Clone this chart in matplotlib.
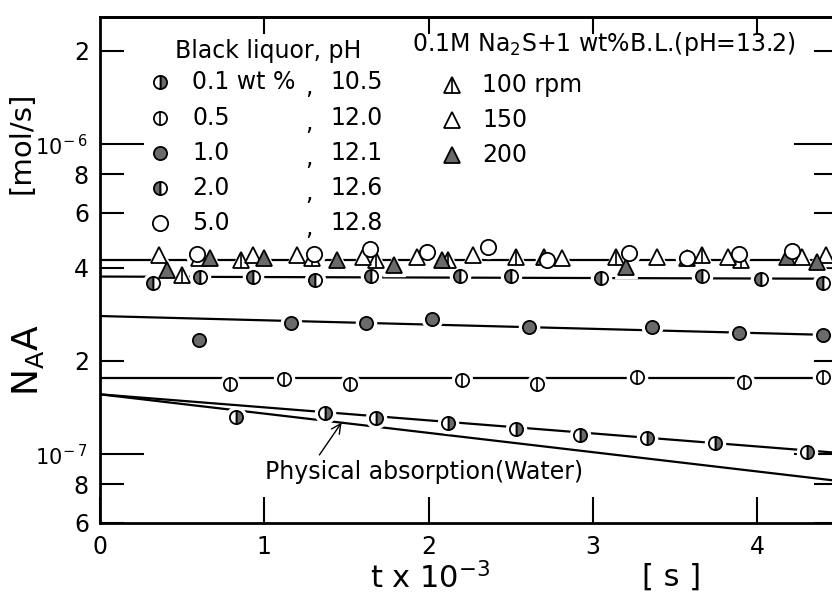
import matplotlib
matplotlib.use("Agg")
import matplotlib.pyplot as plt
from matplotlib.ticker import FixedLocator, FixedFormatter

plt.rcParams["font.family"] = ["DejaVu Sans"]
plt.rcParams["mathtext.fontset"] = "dejavusans"
plt.rcParams["mathtext.default"] = "regular"

# contact time t x 10^-3 [s] and absorption rate N_A*A [mol/s]
t_01 = [0.83, 1.37, 1.68, 2.12, 2.53, 2.92, 3.33, 3.74, 4.30]
n_01 = [1.32e-7, 1.36e-7, 1.31e-7, 1.26e-7, 1.21e-7, 1.15e-7, 1.13e-7, 1.085e-7, 1.015e-7]

t_05 = [0.79, 1.12, 1.52, 2.20, 2.66, 3.27, 3.92, 4.40]
n_05 = [1.68e-7, 1.75e-7, 1.68e-7, 1.73e-7, 1.69e-7, 1.77e-7, 1.71e-7, 1.77e-7]

t_10 = [0.60, 1.16, 1.62, 2.02, 2.61, 3.36, 3.89, 4.40]
n_10 = [2.33e-7, 2.65e-7, 2.65e-7, 2.73e-7, 2.57e-7, 2.57e-7, 2.46e-7, 2.42e-7]

t_20 = [0.32, 0.61, 0.93, 1.31, 1.65, 2.19, 2.50, 3.05, 3.66, 4.02, 4.40]
n_20 = [3.56e-7, 3.72e-7, 3.72e-7, 3.64e-7, 3.75e-7, 3.75e-7, 3.75e-7, 3.70e-7, 3.75e-7, 3.67e-7, 3.56e-7]

t_50 = [0.59, 1.30, 1.64, 1.99, 2.36, 2.72, 3.22, 3.57, 3.89, 4.21]
n_50 = [4.41e-7, 4.41e-7, 4.58e-7, 4.48e-7, 4.66e-7, 4.22e-7, 4.45e-7, 4.29e-7, 4.41e-7, 4.52e-7]

t_100 = [0.50, 0.86, 1.29, 1.68, 2.12, 2.53, 3.14, 3.66, 3.90]
n_100 = [3.78e-7, 4.22e-7, 4.29e-7, 4.22e-7, 4.22e-7, 4.32e-7, 4.32e-7, 4.38e-7, 4.22e-7]

t_150 = [0.36, 0.60, 0.93, 1.20, 1.60, 1.93, 2.27, 2.81, 3.39, 3.82, 4.27, 4.42]
n_150 = [4.38e-7, 4.29e-7, 4.38e-7, 4.38e-7, 4.32e-7, 4.32e-7, 4.38e-7, 4.29e-7, 4.32e-7, 4.32e-7, 4.32e-7, 4.38e-7]

t_200 = [0.41, 0.67, 1.00, 1.44, 1.79, 2.08, 2.70, 3.20, 3.57, 4.18, 4.36]
n_200 = [3.92e-7, 4.29e-7, 4.29e-7, 4.22e-7, 4.07e-7, 4.22e-7, 4.32e-7, 4.01e-7, 4.29e-7, 4.32e-7, 4.16e-7]

# fitted lines (end points)
t_fit = [0.0, 4.49]
fit_top = [4.22e-7, 4.22e-7]
fit_20 = [3.74e-7, 3.68e-7]
fit_10 = [2.79e-7, 2.42e-7]
fit_05 = [1.76e-7, 1.76e-7]
fit_01 = [1.56e-7, 1.01e-7]
fit_water = [1.56e-7, 0.82e-7]

bl_conc = ["0.1 wt %", "0.5", "1.0", "2.0", "5.0"]
bl_ph = ["10.5", "12.0", "12.1", "12.6", "12.8"]
rpm_labels = ["100 rpm", "150", "200"]

GRAY = "#6a6a6a"
MS_C = 9.5
MS_T = 11
FS = 17

styles = {
    "01": [dict(marker="o", fillstyle="right", markerfacecolor=GRAY,
                markerfacecoloralt="white", markersize=MS_C)],
    "05": [dict(marker="o", markerfacecolor="white", markersize=MS_C),
           dict(marker="|", markersize=MS_C, markeredgewidth=1.2)],
    "10": [dict(marker="o", markerfacecolor=GRAY, markersize=MS_C)],
    "20": [dict(marker="o", fillstyle="left", markerfacecolor=GRAY,
                markerfacecoloralt="white", markersize=MS_C)],
    "50": [dict(marker="o", markerfacecolor="white", markersize=MS_C + 1.5)],
    "100": [dict(marker="^", markerfacecolor="white", markersize=MS_T),
            dict(marker="|", markersize=MS_T, markeredgewidth=1.2)],
    "150": [dict(marker="^", markerfacecolor="white", markersize=MS_T)],
    "200": [dict(marker="^", markerfacecolor=GRAY, markersize=MS_T)],
}


def draw_marks(ax, x, y, key, halo=True, **kw):
    parts = styles[key]
    if halo:
        ax.plot(x, y, ls="none", marker=parts[0]["marker"], color="white",
                markersize=parts[0]["markersize"] + 5, zorder=3, **kw)
    for p in parts:
        ax.plot(x, y, ls="none", markeredgecolor="black", markeredgewidth=p.get("markeredgewidth", 1.3),
                zorder=4, **{k: v for k, v in p.items() if k != "markeredgewidth"}, **kw)


fig = plt.figure(figsize=(8.32, 5.94), dpi=100)
ax = fig.add_axes([100 / 832, 1 - 523 / 594, 738 / 832, 506 / 594])
ax.set_yscale("log")
ax.set_xlim(0, 4.49)
ax.set_ylim(6e-8, 2.57e-6)

for f in [fit_top, fit_20, fit_10, fit_05, fit_01, fit_water]:
    ax.plot(t_fit, f, color="black", lw=1.6, zorder=2)

draw_marks(ax, t_01, n_01, "01")
draw_marks(ax, t_05, n_05, "05")
draw_marks(ax, t_10, n_10, "10")
draw_marks(ax, t_20, n_20, "20")
draw_marks(ax, t_100, n_100, "100")
draw_marks(ax, t_150, n_150, "150")
draw_marks(ax, t_200, n_200, "200")
draw_marks(ax, t_50, n_50, "50")

# axes frame and ticks
for s in ax.spines.values():
    s.set_linewidth(2)
ax.set_xticks([0, 1, 2, 3, 4])
ax.tick_params(axis="x", direction="in", length=19, width=1.5, labelsize=FS, pad=9)
ax.yaxis.set_major_locator(FixedLocator([1e-7, 1e-6]))
ax.yaxis.set_major_formatter(FixedFormatter([r"$10^{\!-7}$", r"$10^{\!-6}$"]))
ax.yaxis.set_minor_locator(FixedLocator([6e-8, 8e-8, 2e-7, 4e-7, 6e-7, 8e-7, 2e-6]))
ax.yaxis.set_minor_formatter(FixedFormatter(["6", "8", "2", "4", "6", "8", "2"]))
ax.tick_params(axis="y", which="major", direction="in", length=32, width=1.5,
               right=True, labelsize=15, pad=9)
ax.tick_params(axis="y", which="minor", direction="in", length=17, width=1.5,
               right=True, labelsize=FS, pad=8)

top = ax.secondary_xaxis("top")
top.set_xticks([1, 2, 3, 4])
top.tick_params(direction="in", length=12, width=1.5, labeltop=False)
top.spines["top"].set_linewidth(2)

# legend block: black liquor
tr = ax.transAxes
ax.text(0.1016, 0.9328, "Black liquor, pH", transform=tr, fontsize=FS, va="center")
rows = [0.8715, 0.8004, 0.7312, 0.6621, 0.5929]
for key, conc, ph, ry in zip(["01", "05", "10", "20", "50"], bl_conc, bl_ph, rows):
    draw_marks(ax, [0.0813], [ry], key, halo=False, transform=tr, clip_on=False)
    ax.text(0.1247, ry, conc, transform=tr, fontsize=FS, va="center")
    ax.text(0.2778, ry - 0.01, ",", transform=tr, fontsize=FS, va="center")
    ax.text(0.3117, ry, ph, transform=tr, fontsize=FS, va="center")

# legend block: Na2S solution
ax.text(0.4228, 0.9466, r"0.1M Na$_2$S+1 wt%B.L.(pH=13.2)", transform=tr,
        fontsize=FS, va="center")
for key, lab, ry in zip(["100", "150", "200"], rpm_labels, [0.8656, 0.7964, 0.7273]):
    draw_marks(ax, [0.477], [ry], key, halo=False, transform=tr, clip_on=False)
    ax.text(0.5176, ry, lab, transform=tr, fontsize=FS, va="center")

# physical absorption annotation
ax.annotate("Physical absorption(Water)", xy=(1.47, 1.265e-7), xycoords="data",
            xytext=(0.2236, 0.1008), textcoords="axes fraction", fontsize=FS, va="center",
            arrowprops=dict(arrowstyle="->", color="black", lw=1.0,
                            relpos=(0.16, 1.0), shrinkA=2, shrinkB=0))

# axis titles
fig.text(0.034, 0.394, r"N$_A$A", rotation=90, fontsize=26, ha="center", va="center")
fig.text(0.026, 0.760, "[mol/s]", rotation=90, fontsize=21, ha="center", va="center")
fig.text(0.517, 0.027, r"t x $10^{-3}$", fontsize=22, ha="center", va="center")
fig.text(0.8077, 0.0286, "[ s ]", fontsize=22, ha="center", va="center")

fig.savefig("out.png", dpi=100)
